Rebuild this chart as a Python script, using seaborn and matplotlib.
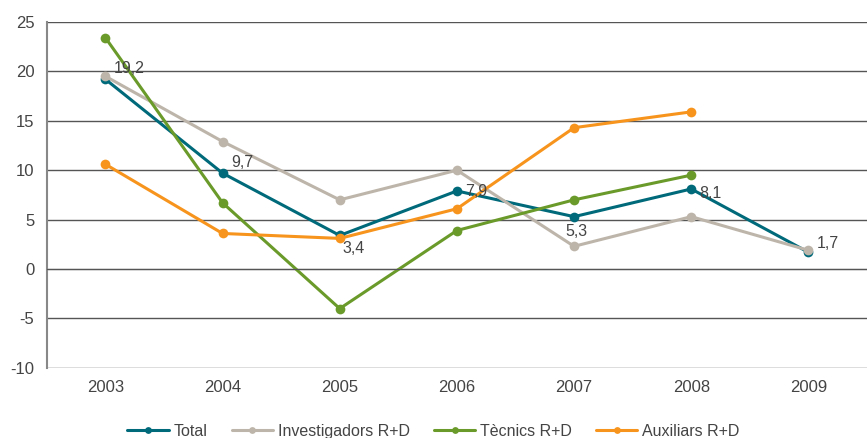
import numpy as np
import pandas as pd
import seaborn as sns
import matplotlib.pyplot as plt

years = ["2003", "2004", "2005", "2006", "2007", "2008", "2009"]
total = [19.2, 9.7, 3.4, 7.9, 5.3, 8.1, 1.7]
investigadors = [19.5, 12.9, 7.0, 10.0, 2.3, 5.3, 1.9]
tecnics = [23.4, 6.7, -4.0, 3.9, 7.0, 9.5, np.nan]
auxiliars = [10.6, 3.6, 3.1, 6.1, 14.3, 15.9, np.nan]

series_names = ["Total", "Investigadors R+D", "Tècnics R+D", "Auxiliars R+D"]
colors = ["#00697A", "#BDB5AA", "#6A9A2A", "#F7941D"]

rows = []
for name, vals in zip(series_names, [total, investigadors, tecnics, auxiliars]):
    for i, v in enumerate(vals):
        rows.append({"x": i, "value": v, "serie": name})
df = pd.DataFrame(rows).dropna()

sns.set_style("white")
plt.rcParams["font.family"] = ["Liberation Sans", "DejaVu Sans"]
plt.rcParams["axes.unicode_minus"] = False
text_color = "#444444"

fig = plt.figure(figsize=(8.67, 4.38), dpi=100)
ax = fig.add_axes([0.054, 0.160, 0.946, 0.790])

for y in range(-10, 30, 5):
    ax.axhline(y, color="#555555", lw=1.0, zorder=0)

sns.lineplot(data=df, x="x", y="value", hue="serie", hue_order=series_names,
             palette=colors, marker="o", markersize=7, markeredgewidth=0,
             linewidth=2.2, ax=ax, sort=False)

# etiquetes de la serie Total
offsets = [(6, 2), (6, 2), (2, -15), (6, -6), (-6, -16), (6, -9), (6, 1)]
for i, (v, off) in enumerate(zip(total, offsets)):
    ax.annotate(f"{v:.1f}".replace(".", ","), (i, v), xytext=off,
                textcoords="offset points", fontsize=11.5, color=text_color,
                ha="left", va="bottom")

ax.set_xlim(-0.5, 6.5)
ax.set_ylim(-10, 25)
ax.set_yticks(range(-10, 30, 5))
ax.tick_params(axis="y", labelsize=12, colors=text_color, length=5,
               color="#888888", direction="out", pad=4)

for s in ["top", "right"]:
    ax.spines[s].set_visible(False)
ax.spines["left"].set_color("#888888")
ax.spines["left"].set_linewidth(1.5)
ax.spines["bottom"].set_position(("data", 0))
ax.spines["bottom"].set_color("#555555")

ax.set_xticks(np.arange(-0.5, 7.0, 1.0))
ax.set_xticklabels([])
ax.tick_params(axis="x", length=4, color="#555555", direction="out")

sec = ax.secondary_xaxis("bottom")
sec.set_xticks(range(len(years)))
sec.set_xticklabels(years)
sec.tick_params(length=0, labelsize=12, colors=text_color, pad=9)
sec.spines["bottom"].set_visible(False)

ax.set_xlabel("")
ax.set_ylabel("")
handles, labels = ax.get_legend_handles_labels()
ax.get_legend().remove()
fig.legend(handles, labels, loc="lower center", bbox_to_anchor=(0.5, -0.005),
           ncol=4, frameon=False, fontsize=11.5, labelcolor=text_color,
           handlelength=2.6, markerscale=0.7, columnspacing=1.5,
           handletextpad=0.3, borderaxespad=0, borderpad=0.1)

fig.savefig("out.png", dpi=100)
